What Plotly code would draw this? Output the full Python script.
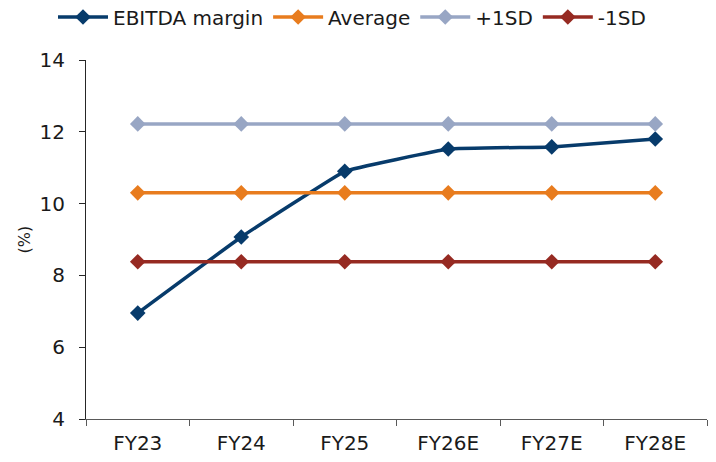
import plotly.graph_objects as go

categories = ["FY23", "FY24", "FY25", "FY26E", "FY27E", "FY28E"]
ebitda_margin = [6.95, 9.07, 10.9, 11.52, 11.58, 11.8]
average = [10.3] * 6
plus_1sd = [12.22] * 6
minus_1sd = [8.38] * 6

series = [
    ("EBITDA margin", ebitda_margin, "#073B6B"),
    ("Average", average, "#E87C1E"),
    ("+1SD", plus_1sd, "#98A6C4"),
    ("-1SD", minus_1sd, "#962A22"),
]

fig = go.Figure()
for name, vals, color in series:
    fig.add_trace(go.Scatter(
        x=categories, y=vals, name=name, mode="lines+markers",
        line=dict(color=color, width=3.5, shape="spline",
                  smoothing=0.2 if name == "EBITDA margin" else 0),
        marker=dict(symbol="diamond", size=12, color=color),
    ))

W, H = 716, 462
L, R, T, B = 86, 9, 60, 43
pw = W - L - R

font_family = "'DejaVu Sans', sans-serif"
fig.update_layout(
    width=W, height=H, autosize=False,
    margin=dict(l=L, r=R, t=T, b=B, autoexpand=False),
    plot_bgcolor="white", paper_bgcolor="white",
    font=dict(family=font_family, size=20, color="#1a1a1a"),
    legend=dict(orientation="h", x=352 / W, xanchor="center", xref="container",
                y=1 - 17 / H, yanchor="middle", yref="container", itemwidth=50,
                font=dict(size=20), traceorder="normal", tracegroupgap=0),
    xaxis=dict(type="category", range=[-0.5, 5.5], showline=True, linecolor="#595959",
               linewidth=1, ticks="outside", tickson="boundaries", ticklen=6,
               tickcolor="#595959", showgrid=False, zeroline=False, automargin=False,
               tickfont=dict(size=20), ticklabelstandoff=6),
    yaxis=dict(range=[4, 14], dtick=2, showline=True, linecolor="#262626", linewidth=1,
               ticks="outside", ticklen=6, tickcolor="#262626", showgrid=False,
               zeroline=False, automargin=False, tickfont=dict(size=20),
               ticklabelstandoff=10),
    annotations=[dict(text="(%)", xref="paper", yref="paper", x=(24 - L) / pw, y=0.5,
                      xanchor="center", yanchor="middle", textangle=-90,
                      showarrow=False, font=dict(size=16))],
)
fig.write_html(
    "out.html",
    config={"displayModeBar": False},
    post_script="document.body.style.margin='0';document.body.style.overflow='hidden';",
)
